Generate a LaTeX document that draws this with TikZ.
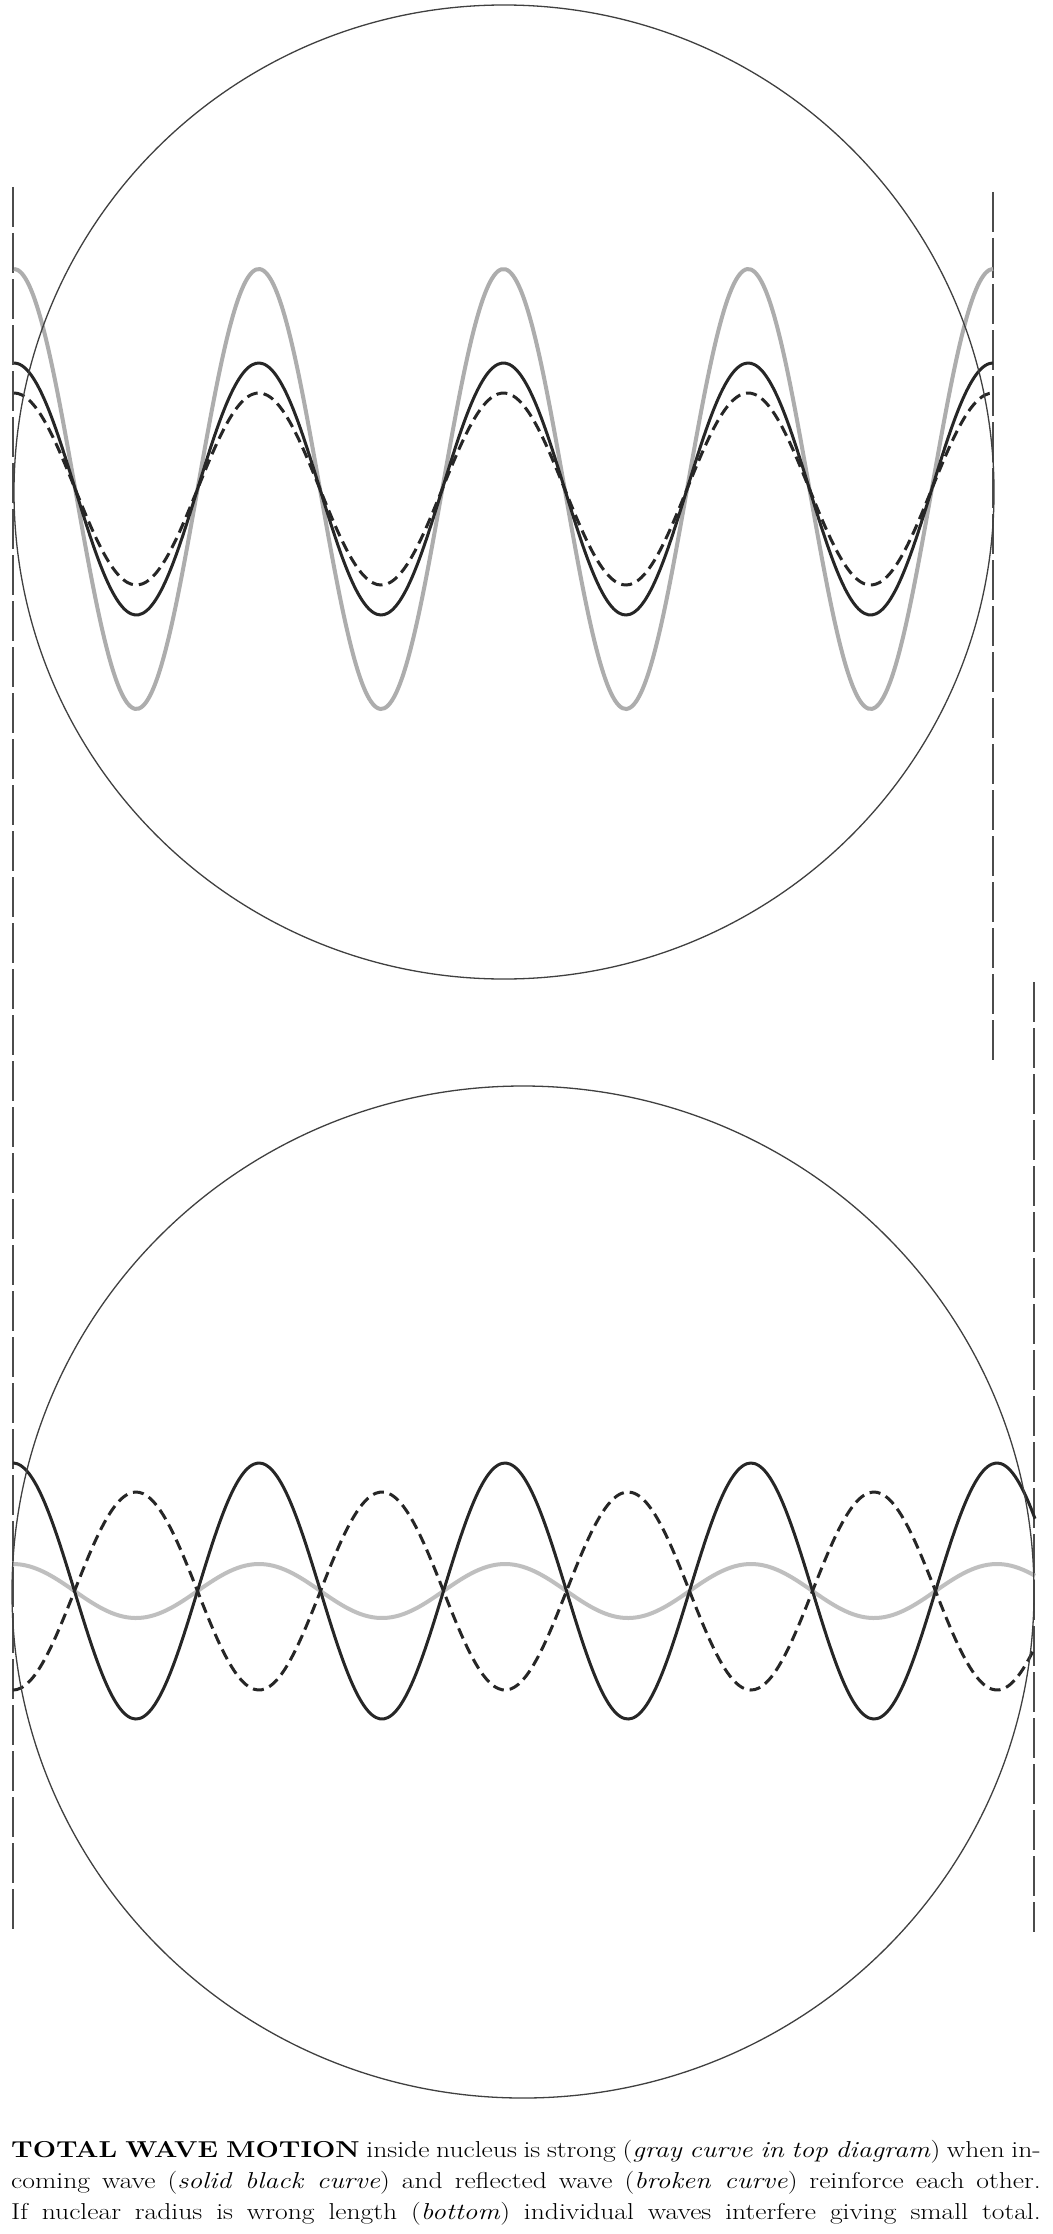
\documentclass[tikz,border=0pt]{standalone}
\usepackage{graphicx}
\begin{document}
\begin{tikzpicture}[x=1pt,y=-1pt,
  rim/.style={draw=black!75, line width=1.3pt},
  guide/.style={draw=black!70, line width=1.4pt, dash pattern=on 40pt off 6pt},
  graywave/.style={draw=black!32, line width=4pt},
  solidwave/.style={draw=black!85, line width=3pt},
  brokenwave/.style={draw=black!85, line width=3pt, dash pattern=on 11pt off 6pt},
  capline/.style={anchor=base west, inner sep=0pt, font=\fontsize{23}{28}\selectfont}
]
\useasboundingbox[fill=white] (0,0) rectangle (1052,2234);

% guide lines (dashed verticals)
\coordinate (L1) at (13,187);
\coordinate (L2) at (13,1930);
\coordinate (R1) at (993,192);
\coordinate (R2) at (993,1065);
\coordinate (S1) at (1034,982);
\coordinate (S2) at (1034,1932);
\draw[guide] (L1) -- (L2);
\draw[guide] (R1) -- (R2);
\draw[guide] (S1) -- (S2);

% top diagram
\coordinate (topc) at (504,492);
\draw[graywave] plot[domain=14:993, samples=260, smooth] (\x, {489-220*cos((\x-14)/244.75*360)});
\draw[brokenwave] plot[domain=14:993, samples=260, smooth] (\x, {489-96*cos((\x-14)/244.75*360)});
\draw[solidwave] plot[domain=14:993, samples=260, smooth] (\x, {489-126*cos((\x-14)/244.75*360)});
\draw[rim] (topc) ellipse[x radius=490, y radius=487];

% bottom diagram
\coordinate (botc) at (523,1592);
\draw[graywave, draw=black!25] plot[domain=13:1035, samples=260, smooth] (\x, {1591-27*cos((\x-13)/246*360)});
\draw[brokenwave] plot[domain=13:1035, samples=260, smooth] (\x, {1591+99*cos((\x-13)/246*360)});
\draw[solidwave] plot[domain=13:1035, samples=260, smooth] (\x, {1591-128*cos((\x-13)/246*360)});
\draw[rim] (botc) ellipse[x radius=511, y radius=506];

% caption
\node[capline] (cap1) at (11,2157) {\scalebox{1.2}[1]{\makebox[858pt][s]{\textbf{TOTAL WAVE MOTION} inside nucleus is strong (\textit{gray curve in top diagram}) when in-}}};
\node[capline] (cap2) at (11,2188) {\scalebox{1.2}[1]{\makebox[858pt][s]{coming wave (\textit{solid black curve}) and reflected wave (\textit{broken curve}) reinforce each other.}}};
\node[capline] (cap3) at (11,2219) {\scalebox{1.2}[1]{\makebox[858pt][s]{If nuclear radius is wrong length (\textit{bottom}) individual waves interfere giving small total.}}};
\end{tikzpicture}
\end{document}
